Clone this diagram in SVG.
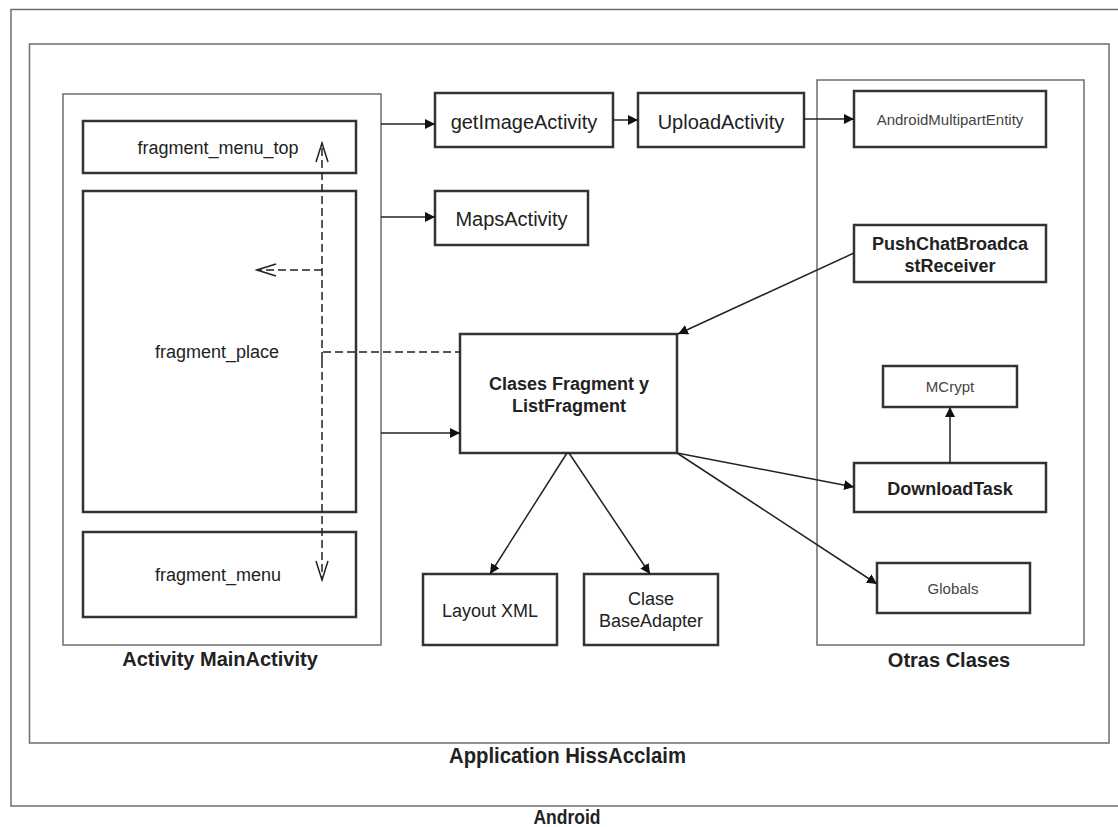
<svg xmlns="http://www.w3.org/2000/svg" width="1118" height="827" viewBox="0 0 1118 827">
  <style>
    text { font-family: "Liberation Sans", Arial, sans-serif; fill: #222; }
    .container { fill: none; stroke: #6e6e6e; stroke-width: 1.5; }
    .node { fill: #fff; stroke: #333; stroke-width: 2.5; }
    .lbl { font-size: 20px; text-anchor: middle; }
    .frag { font-size: 18px; text-anchor: middle; }
    .small { font-size: 15px; text-anchor: middle; fill: #444; }
    .bold18 { font-size: 18px; font-weight: bold; text-anchor: middle; }
    .bold20 { font-size: 20px; font-weight: bold; text-anchor: middle; }
    .edge { fill: none; stroke: #222; stroke-width: 1.5; }
    .dash { fill: none; stroke: #222; stroke-width: 1.5; stroke-dasharray: 8 4; }
  </style>
  <defs>
    <marker id="arrow" markerUnits="userSpaceOnUse" markerWidth="11" markerHeight="11" refX="10" refY="5" orient="auto">
      <path d="M0,0 L10,5 L0,10 z" fill="#111"/>
    </marker>
    <marker id="open" markerUnits="userSpaceOnUse" markerWidth="22" markerHeight="16" refX="20" refY="7" orient="auto">
      <path d="M1,1 L20,7 L1,13" fill="none" stroke="#222" stroke-width="1.5"/>
    </marker>
  </defs>

  <rect width="1118" height="827" fill="#fff"/>

  <!-- platform and application frames -->
  <g id="android">
    <rect class="container" x="11" y="9.5" width="1130" height="796.5"/>
    <text class="bold20" x="567" y="824" font-size="20" textLength="67" lengthAdjust="spacingAndGlyphs">Android</text>
  </g>
  <g id="application">
    <rect class="container" x="29.5" y="44" width="1079.5" height="699"/>
    <text class="bold20" x="567.5" y="763" style="font-size:22px" textLength="237" lengthAdjust="spacingAndGlyphs">Application HissAcclaim</text>
  </g>

  <!-- main activity with its fragments -->
  <g id="main-activity">
    <rect class="container" x="63" y="94" width="318" height="551"/>
    <text class="bold20" x="220" y="666">Activity MainActivity</text>
  </g>
  <g id="fragment-menu-top">
    <rect class="node" x="83" y="121" width="273" height="52"/>
    <text class="frag" x="218" y="154">fragment_menu_top</text>
  </g>
  <g id="fragment-place">
    <rect class="node" x="83" y="191" width="273" height="321"/>
    <text class="frag" x="217" y="358">fragment_place</text>
  </g>
  <g id="fragment-menu">
    <rect class="node" x="83" y="532" width="273" height="85"/>
    <text class="frag" x="218" y="581">fragment_menu</text>
  </g>

  <!-- activities -->
  <g id="get-image-activity">
    <rect class="node" x="435" y="93" width="178" height="54"/>
    <text class="lbl" x="524" y="129">getImageActivity</text>
  </g>
  <g id="upload-activity">
    <rect class="node" x="638" y="93" width="166" height="54"/>
    <text class="lbl" x="721" y="129">UploadActivity</text>
  </g>
  <g id="maps-activity">
    <rect class="node" x="435" y="191" width="153" height="54"/>
    <text class="lbl" x="511.5" y="226">MapsActivity</text>
  </g>

  <!-- fragments and helpers -->
  <g id="clases-fragment">
    <rect class="node" x="460" y="334" width="217" height="119"/>
    <text class="bold18" x="569" y="390">Clases Fragment y</text>
    <text class="bold18" x="569" y="412">ListFragment</text>
  </g>
  <g id="layout-xml">
    <rect class="node" x="423" y="574" width="134" height="71"/>
    <text class="frag" x="490" y="617">Layout XML</text>
  </g>
  <g id="base-adapter">
    <rect class="node" x="584" y="574" width="134" height="71"/>
    <text class="frag" x="651" y="605">Clase</text>
    <text class="frag" x="651" y="627">BaseAdapter</text>
  </g>

  <!-- other classes -->
  <g id="otras-clases">
    <rect class="container" x="817" y="80" width="267" height="565"/>
    <text class="bold20" x="949" y="667">Otras Clases</text>
  </g>
  <g id="android-multipart-entity">
    <rect class="node" x="854" y="91" width="192" height="56"/>
    <text class="small" x="950" y="125">AndroidMultipartEntity</text>
  </g>
  <g id="push-chat-receiver">
    <rect class="node" x="854" y="225" width="192" height="57"/>
    <text class="bold18" x="950" y="250">PushChatBroadca</text>
    <text class="bold18" x="950" y="272">stReceiver</text>
  </g>
  <g id="mcrypt">
    <rect class="node" x="883" y="366" width="134" height="41"/>
    <text class="small" x="950" y="392">MCrypt</text>
  </g>
  <g id="download-task">
    <rect class="node" x="854" y="463" width="192" height="49"/>
    <text class="bold18" x="950" y="495">DownloadTask</text>
  </g>
  <g id="globals">
    <rect class="node" x="877" y="563" width="153" height="50"/>
    <text class="small" x="953" y="594">Globals</text>
  </g>

  <!-- connectors -->
  <g id="connectors">
    <line class="edge" x1="381" y1="124" x2="435" y2="124" marker-end="url(#arrow)"/>
    <line class="edge" x1="381" y1="217" x2="435" y2="217" marker-end="url(#arrow)"/>
    <line class="edge" x1="381" y1="433" x2="460" y2="433" marker-end="url(#arrow)"/>
    <line class="edge" x1="613" y1="120" x2="638" y2="120" marker-end="url(#arrow)"/>
    <line class="edge" x1="804" y1="119" x2="854" y2="119" marker-end="url(#arrow)"/>
    <line class="edge" x1="854" y1="253" x2="678" y2="334" marker-end="url(#arrow)"/>
    <line class="edge" x1="567" y1="453" x2="490" y2="574" marker-end="url(#arrow)"/>
    <line class="edge" x1="569" y1="453" x2="650" y2="574" marker-end="url(#arrow)"/>
    <line class="edge" x1="677" y1="453" x2="854" y2="487" marker-end="url(#arrow)"/>
    <line class="edge" x1="677" y1="453" x2="877" y2="584" marker-end="url(#arrow)"/>
    <line class="edge" x1="950" y1="463" x2="950" y2="407" marker-end="url(#arrow)"/>
    <!-- fragment navigation (dashed) -->
    <line class="dash" x1="322" y1="360" x2="322" y2="143" marker-end="url(#open)"/>
    <line class="dash" x1="322" y1="360" x2="322" y2="580" marker-end="url(#open)"/>
    <line class="dash" x1="322" y1="270" x2="257" y2="270" marker-end="url(#open)"/>
    <line class="dash" x1="323" y1="352" x2="460" y2="352"/>
  </g>
</svg>
